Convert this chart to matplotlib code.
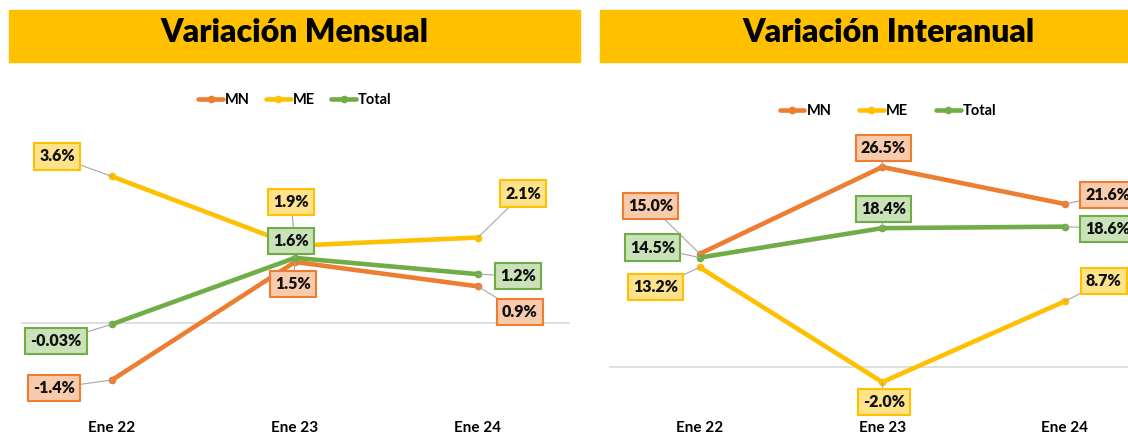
import matplotlib
matplotlib.use("Agg")
import matplotlib.pyplot as plt
from matplotlib.patches import Rectangle

plt.rcParams["font.family"] = ["Lato", "DejaVu Sans"]
plt.rcParams["font.weight"] = "bold"

# データ
categorias = ["Ene 22", "Ene 23", "Ene 24"]
series = ["MN", "ME", "Total"]

mensual_mn = [-1.4, 1.5, 0.9]
mensual_me = [3.6, 1.9, 2.1]
mensual_total = [-0.03, 1.6, 1.2]

interanual_mn = [15.0, 26.5, 21.6]
interanual_me = [13.2, -2.0, 8.7]
interanual_total = [14.5, 18.4, 18.6]

# 色
colores = {"MN": "#ED7D31", "ME": "#FFC000", "Total": "#70AD47"}
rellenos = {"MN": "#F8CBAD", "ME": "#FFE38A", "Total": "#C9E2B8"}

# ラベルの位置 (ピクセル単位のオフセット)
off_mensual = {
    "MN": [(-58, -8), (-2, -22), (42, -26)],
    "ME": [(-55, 20), (-4, 44), (45, 44)],
    "Total": [(-56, -17), (-4, 17), (40, -2)],
}
off_interanual = {
    "MN": [(-49, 48), (1, 19), (43, 9)],
    "ME": [(-44, -20), (2, -20), (39, 20)],
    "Total": [(-47, 10), (1, 19), (43, -2)],
}

W, H = 1128, 436
fig = plt.figure(figsize=(W / 100, H / 100), dpi=100)


def fmt(v):
    if abs(v) < 0.1:
        return f"{v:.2f}%"
    return f"{v:.1f}%"


def banner(x0, x1, titulo, xc):
    fig.patches.append(Rectangle((x0 / W, 1 - 62 / H), (x1 - x0) / W, 52 / H,
                                 transform=fig.transFigure, color="#FFC000", zorder=0))
    fig.text(xc / W, 1 - 42 / H, titulo, ha="center", va="baseline",
             fontsize=23, fontweight="heavy", color="black")


def panel(rect, ylim, datos, offsets, leg_xy, colspace):
    ax = fig.add_axes(rect)
    x = range(len(categorias))
    for nombre, vals in zip(series, datos):
        ax.plot(x, vals, color=colores[nombre], lw=3.3, marker="o", ms=4.5,
                label=nombre, solid_capstyle="round", zorder=3)
    for nombre, vals in zip(series, datos):
        for i, v in enumerate(vals):
            ax.annotate(fmt(v), (i, v), xytext=offsets[nombre][i],
                        textcoords="offset pixels", ha="center", va="center",
                        fontsize=11.5, fontweight="heavy", color="#111111", zorder=5,
                        bbox=dict(boxstyle="square,pad=0.32", fc=rellenos[nombre],
                                  ec=colores[nombre], lw=1.5),
                        arrowprops=dict(arrowstyle="-", color="#A6A6A6", lw=0.8,
                                        shrinkA=0, shrinkB=0))
    ax.axhline(0, color="#D9D9D9", lw=1.2, zorder=1)
    ax.set_xlim(-0.5, len(categorias) - 0.5)
    ax.set_ylim(*ylim)
    ax.set_xticks(list(x))
    ax.set_xticklabels(categorias, fontsize=11, fontweight="bold")
    ax.tick_params(axis="x", length=0, pad=12)
    ax.set_yticks([])
    for s in ax.spines.values():
        s.set_visible(False)
    h, l = ax.get_legend_handles_labels()
    fig.legend(h, l, loc="center", bbox_to_anchor=leg_xy, ncol=3, frameon=False,
               handlelength=1.7, handletextpad=0.15, columnspacing=colspace,
               prop={"weight": "bold", "size": 10.5})
    return ax


# 左: 月次変動
banner(9, 580, "Variación Mensual", 294)
px_m, y0_m = 40.7, 323
ylim_m = (-2.0, 4.5)
top = y0_m - ylim_m[1] * px_m
bot = y0_m - ylim_m[0] * px_m
panel([20.5 / W, 1 - bot / H, 549 / W, (bot - top) / H], ylim_m,
      [mensual_mn, mensual_me, mensual_total], off_mensual,
      (295 / W, 1 - 100 / H), 1.1)

# 右: 前年比
banner(600, 1140, "Variación Interanual", 888)
px_i, y0_i = 7.547, 367
ylim_i = (-5.0, 30.0)
top = y0_i - ylim_i[1] * px_i
bot = y0_i - ylim_i[0] * px_i
panel([608.5 / W, 1 - bot / H, 547.5 / W, (bot - top) / H], ylim_i,
      [interanual_mn, interanual_me, interanual_total], off_interanual,
      (888 / W, 1 - 111 / H), 1.9)

fig.savefig("out.png", dpi=100)
